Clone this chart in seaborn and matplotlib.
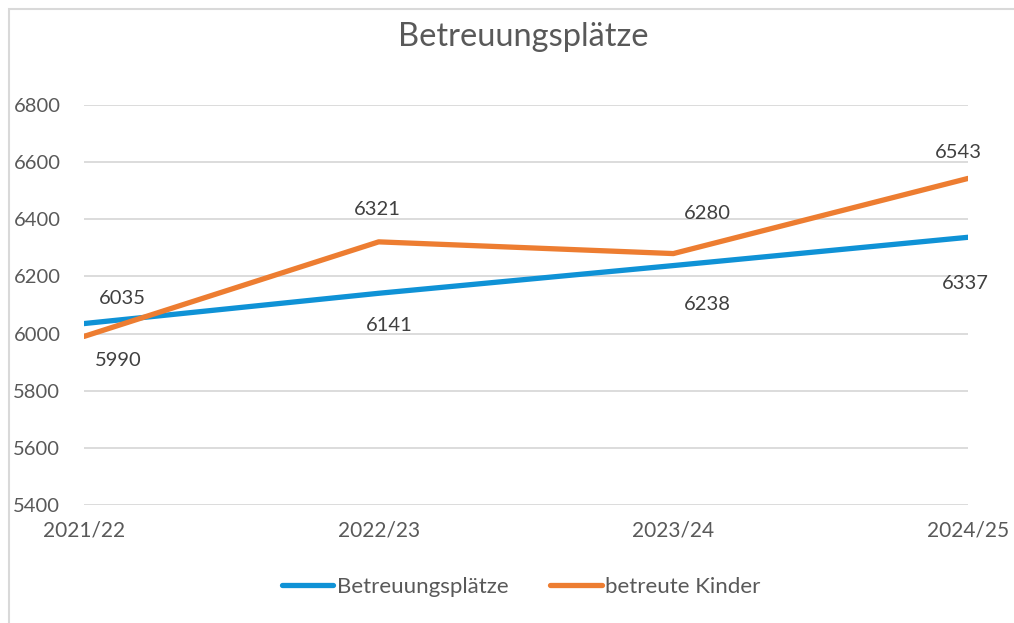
import pandas as pd
import matplotlib.pyplot as plt
import seaborn as sns
from matplotlib.patches import Rectangle
from matplotlib.lines import Line2D

# Data
years = ["2021/22", "2022/23", "2023/24", "2024/25"]
plaetze = [6035, 6141, 6238, 6337]
kinder = [5990, 6321, 6280, 6543]
series_names = ["Betreuungsplätze", "betreute Kinder"]

df = pd.DataFrame({
    "Jahr": years * 2,
    "Wert": plaetze + kinder,
    "Serie": [series_names[0]] * 4 + [series_names[1]] * 4,
})

colors = {"Betreuungsplätze": "#0F92D6", "betreute Kinder": "#ED7D31"}

sns.set_style("white")
plt.rcParams['font.family'] = ['Lato', 'DejaVu Sans']

fig = plt.figure(figsize=(10.14, 6.23), dpi=100)
ax = fig.add_axes([84 / 1014, 1 - 505 / 623, (968 - 84) / 1014, 400 / 623])

sns.lineplot(data=df, x="Jahr", y="Wert", hue="Serie", palette=colors,
             linewidth=3.8, sort=False, legend=False, ax=ax)
for ln in ax.lines:
    ln.set_solid_capstyle("round")

ax.set_xlim(0, 3)
ax.set_ylim(5400, 6800)
ax.set_yticks(range(5400, 6801, 200))
ax.yaxis.grid(True, color="#D9D9D9", linewidth=1.3)
ax.set_axisbelow(True)
for s in ax.spines.values():
    s.set_visible(False)
ax.set_xlabel("")
ax.set_ylabel("")
ax.tick_params(axis="y", length=0, pad=17, labelsize=14.5, labelcolor="#595959")
ax.tick_params(axis="x", length=0, pad=11, labelsize=15, labelcolor="#595959")

# data labels (offsets in pixels)
off_p = [(38, 25), (11, -32), (34, -39), (-3, -46)]
off_k = [(34, -24), (-1, 32), (34, 40), (-10, 26)]
for i, v in enumerate(plaetze):
    ax.annotate(str(v), (i, v), xytext=off_p[i], textcoords="offset pixels",
                ha="center", va="center", fontsize=14.5, color="#404040")
for i, v in enumerate(kinder):
    ax.annotate(str(v), (i, v), xytext=off_k[i], textcoords="offset pixels",
                ha="center", va="center", fontsize=14.5, color="#404040")

fig.text(523 / 1014, 1 - 37 / 623, "Betreuungsplätze", ha="center", va="center",
         fontsize=23.5, color="#595959")

handles = [Line2D([], [], color=colors[n], linewidth=3.8, solid_capstyle="round")
           for n in series_names]
fig.legend(handles, series_names, loc="center", bbox_to_anchor=(0.514, 1 - 587 / 623),
           ncol=2, frameon=False, fontsize=16, handlelength=2.3, handletextpad=0.15,
           columnspacing=1.9, labelcolor="#595959")

# chart border
fig.patches.append(Rectangle((9 / 1014, -0.01), 1.02, 1 - 9 / 623 + 0.01,
                             transform=fig.transFigure, fill=False,
                             edgecolor="#D9D9D9", linewidth=1.5))

fig.savefig("out.png", dpi=100, facecolor="white")
